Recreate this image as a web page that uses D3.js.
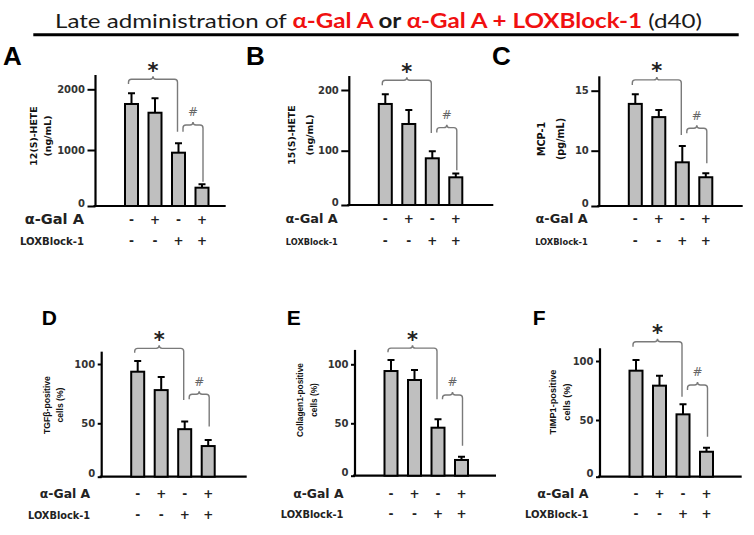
<!DOCTYPE html>
<html>
<head>
<meta charset="utf-8">
<script src="https://cdn.jsdelivr.net/npm/d3@7"></script>
<style>
  body { margin: 0; background: #fff; }
  svg { display: block; }
</style>
</head>
<body>
<script>
// groups and the two treatment rows under each panel
var groups = ["g1", "g2", "g3", "g4"];
var galSigns = ["-", "+", "-", "+"];
var loxSigns = ["-", "-", "+", "+"];

// bar means and upper error
var hete12 = [1758, 1614, 952, 327];
var hete12Err = [176, 238, 158, 61];
var hete15 = [177, 144, 86, 51];
var hete15Err = [16, 23, 13, 7];
var mcp1 = [13.9, 12.8, 7.9, 5.2];
var mcp1Err = [0.8, 0.6, 2.5, 0.7];
var tgfb = [93.5, 78, 44.5, 28.7];
var tgfbErr = [9, 11, 7, 5.7];
var col1 = [94.3, 86.7, 45.8, 15];
var col1Err = [9.4, 8.5, 7.6, 3.1];
var timp1 = [91.8, 79.1, 54.8, 22];
var timp1Err = [9, 8.5, 8.5, 3.6];

// y tick labels
var ticks12 = [0, 1000, 2000];
var ticks15 = [0, 100, 200];
var ticksMcp = [0, 10, 15];
var ticksPct = [0, 50, 100];

// significance brackets: [top level, left end level, right end level]
var starA = [2165, 2088, 1301], hashA = [1412, 1301, 434];
var starB = [216, 208, 129],    hashB = [138, 130, 64];
var starC = [15.9, 15.47, 11.3], hashC = [11.87, 11.45, 7.72];
var starD = [113.2, 109.5, 69.6], hashD = [74.5, 70.3, 47];
var starE = [113.7, 110.3, 70.3], hashE = [74, 70.3, 28.6];
var starF = [116.3, 112, 69.7], hashF = [79.7, 75.4, 35.3];

// panel layout
var panels = [
  {letter: "A", lx: 3, ly: 65, lsize: 26, values: hete12, errs: hete12Err, ticks: ticks12,
   tickPx: [206, 150, 89.3], yMax: 2236, axisX: 95.5, xEnd: 225.7, star: starA, hash: hashA,
   titles: ["12(S)-HETE", "(ng/mL)"], titleX: [-62, -48], titleY: 136, titleSize: 9.4, titleFont: "dv",
   tickSize: 8, row1: 223.5, row2: 245.3, galSize: 14.6, loxSize: 10.1},
  {letter: "B", lx: 246, ly: 65, lsize: 26, values: hete15, errs: hete15Err, ticks: ticks15,
   tickPx: [205, 150.7, 90], yMax: 223, axisX: 349.3, xEnd: 493.3, star: starB, hash: hashB,
   titles: ["15(S)-HETE", "(ng/mL)"], titleX: [-57.5, -39.7], titleY: 135, titleSize: 9.4, titleFont: "dv",
   tickSize: 8, row1: 223.3, row2: 245, galSize: 12.9, loxSize: 8.2},
  {letter: "C", lx: 492, ly: 65, lsize: 26, values: mcp1, errs: mcp1Err, ticks: ticksMcp,
   tickPx: [206, 150.7, 90.7], yMax: 16.2, axisX: 599.3, xEnd: 742.7, star: starC, hash: hashC,
   titles: ["MCP-1", "(pg/mL)"], titleX: [-57.6, -39.3], titleY: 139, titleSize: 9.6, titleFont: "dv",
   tickSize: 8, row1: 223.3, row2: 245, galSize: 12.9, loxSize: 8.3},
  {letter: "D", lx: 41.7, ly: 325, lsize: 21, values: tgfb, errs: tgfbErr, ticks: ticksPct,
   tickPx: [476.7, 423.3, 364], yMax: 110.4, axisX: 101.7, xEnd: 246.7, star: starD, hash: hashD,
   titles: ["TGF\u03B2-positive", "cells (%)"], titleX: [-54.7, -41.7], titleY: 405, titleSize: 8.6, titleFont: "ar",
   tickSize: 4, row1: 498, row2: 518.5, galSize: 12.4, loxSize: 9.8},
  {letter: "E", lx: 286.7, ly: 325, lsize: 21, values: col1, errs: col1Err, ticks: ticksPct,
   tickPx: [475.7, 423.3, 364.3], yMax: 112.2, axisX: 355, xEnd: 496, star: starE, hash: hashE,
   titles: ["Collagen1-positive", "cells (%)"], titleX: [-55, -41.2], titleY: 400, titleSize: 8.3, titleFont: "ar",
   tickSize: 4, row1: 498.3, row2: 518.3, galSize: 12.4, loxSize: 9.9},
  {letter: "F", lx: 532.7, ly: 325, lsize: 21, values: timp1, errs: timp1Err, ticks: ticksPct,
   tickPx: [476.7, 420, 361], yMax: 110.8, axisX: 600, xEnd: 741.7, star: starF, hash: hashF,
   titles: ["TIMP1-positive", "cells (%)"], titleX: [-46.7, -33.3], titleY: 402, titleSize: 9.2, titleFont: "ar",
   tickSize: 4, row1: 498.3, row2: 518.3, galSize: 12.6, loxSize: 10}
];

var boldFont = "'DejaVu Sans', Verdana, sans-serif";
var arialFont = "'Liberation Sans', Arial, sans-serif";

var svg = d3.select("body").append("svg")
    .attr("width", 754)
    .attr("height", 535);

// heading
var heading = svg.append("text")
    .attr("x", 55)
    .attr("y", 28.3)
    .attr("textLength", 647)
    .attr("lengthAdjust", "spacingAndGlyphs")
    .style("font-family", "Lato, 'Open Sans', sans-serif")
    .style("font-size", "20px")
    .style("fill", "#1a1a1a");
heading.append("tspan").text("Late administration of ");
heading.append("tspan").style("fill", "#f01010").style("font-weight", "bold").text("\u03B1-Gal A");
heading.append("tspan").style("font-weight", "bold").text("  or ");
heading.append("tspan").style("fill", "#f01010").style("font-weight", "bold").text("\u03B1-Gal A  + LOXBlock-1");
heading.append("tspan").text(" (d40)");

svg.append("line")
    .attr("x1", 33.3).attr("x2", 738.7)
    .attr("y1", 34.7).attr("y2", 34.7)
    .style("stroke", "#000")
    .style("stroke-width", 3);

// curly bracket opening downward
function bracket(xL, xR, yTop, yL, yR) {
  var r = 3, xm = (xL + xR) / 2;
  return "M" + xL + "," + yL +
    "L" + xL + "," + (yTop + r) +
    "Q" + xL + "," + yTop + " " + (xL + r) + "," + yTop +
    "L" + (xm - r) + "," + yTop +
    "Q" + xm + "," + yTop + " " + xm + "," + (yTop - r) +
    "Q" + xm + "," + yTop + " " + (xm + r) + "," + yTop +
    "L" + (xR - r) + "," + yTop +
    "Q" + xR + "," + yTop + " " + xR + "," + (yTop + r) +
    "L" + xR + "," + yR;
}

panels.forEach(function(p) {
  var g = svg.append("g");

  var x = d3.scalePoint()
      .domain(groups)
      .range([p.axisX + 36, p.axisX + 106.5]);

  // the printed axis is not evenly spaced, so use a piecewise linear scale
  var y = d3.scaleLinear()
      .domain(p.ticks)
      .range(p.tickPx);

  var base = y(0);
  var barW = 13;

  // panel letter
  g.append("text")
      .attr("x", p.lx)
      .attr("y", p.ly)
      .style("font-family", arialFont)
      .style("font-weight", "bold")
      .style("font-size", p.lsize + "px")
      .text(p.letter);

  // y axis ticks
  var yAxis = g.append("g")
      .attr("transform", "translate(" + p.axisX + ",0)")
      .call(d3.axisLeft(y).tickValues(p.ticks).tickFormat(d3.format("d"))
        .tickSize(p.tickSize).tickPadding(2.5).tickSizeOuter(0));
  yAxis.select(".domain").remove();
  yAxis.selectAll("line").style("stroke", "#000").style("stroke-width", 2);
  yAxis.selectAll("text")
      .style("font-family", boldFont)
      .style("font-weight", "bold")
      .style("font-size", "10px")
      .style("fill", "#333");
  // the zero label sits a little above the baseline in the original
  yAxis.selectAll("text")
      .filter(function(d) { return d === 0; })
      .attr("dy", "0.02em");

  // axis lines
  g.append("line")
      .attr("x1", p.axisX).attr("x2", p.axisX)
      .attr("y1", base).attr("y2", y(p.yMax))
      .style("stroke", "#000").style("stroke-width", 2.2);
  g.append("line")
      .attr("x1", p.axisX - 2).attr("x2", p.xEnd)
      .attr("y1", base).attr("y2", base)
      .style("stroke", "#000").style("stroke-width", 2.2);

  // y titles
  p.titles.forEach(function(t, i) {
    g.append("text")
        .attr("transform", "translate(" + (p.axisX + p.titleX[i]) + "," + p.titleY + ") rotate(-90)")
        .attr("text-anchor", "middle")
        .attr("dominant-baseline", "central")
        .style("font-family", p.titleFont == "dv" ? boldFont : arialFont)
        .style("font-weight", "bold")
        .style("font-size", p.titleSize + "px")
        .style("fill", "#111")
        .text(t);
  });

  var data = groups.map(function(k, i) {
    return {key: k, v: p.values[i], e: p.errs[i], gal: galSigns[i], lox: loxSigns[i]};
  });

  // error bars (upper only)
  g.selectAll(".err")
      .data(data)
    .enter().append("path")
      .attr("class", "err")
      .attr("d", function(d) {
        var cx = x(d.key), top = y(d.v + d.e);
        return "M" + cx + "," + y(d.v) + "V" + top + "M" + (cx - 3.5) + "," + top + "H" + (cx + 3.5);
      })
      .style("fill", "none")
      .style("stroke", "#000")
      .style("stroke-width", 2);

  // bars
  g.selectAll(".bar")
      .data(data)
    .enter().append("rect")
      .attr("class", "bar")
      .attr("x", function(d) { return x(d.key) - barW / 2; })
      .attr("width", barW)
      .attr("y", function(d) { return y(d.v); })
      .attr("height", function(d) { return base - y(d.v); })
      .style("fill", "#bfbfbf")
      .style("stroke", "#000")
      .style("stroke-width", 2);

  // brackets
  var sx1 = x(groups[0]) - 3, sx2 = x(groups[2]) - 1;
  g.append("path")
      .attr("d", bracket(sx1, sx2, y(p.star[0]), y(p.star[1]), y(p.star[2])))
      .style("fill", "none").style("stroke", "#7a7a7a").style("stroke-width", 1.4);
  g.append("text")
      .attr("x", (sx1 + sx2) / 2)
      .attr("y", y(p.star[0]) - 14 + 12.5)
      .attr("text-anchor", "middle")
      .style("font-family", boldFont)
      .style("font-weight", "bold")
      .style("font-size", "21px")
      .style("fill", "#222")
      .text("*");

  var hx1 = x(groups[2]) + 4.5, hx2 = x(groups[3]) + 1;
  g.append("path")
      .attr("d", bracket(hx1, hx2, y(p.hash[0]), y(p.hash[1]), y(p.hash[2])))
      .style("fill", "none").style("stroke", "#7a7a7a").style("stroke-width", 1.4);
  g.append("text")
      .attr("x", (hx1 + hx2) / 2)
      .attr("y", y(p.hash[0]) - 13 + 4.4)
      .attr("text-anchor", "middle")
      .style("font-family", boldFont)
      .style("font-size", "12px")
      .style("fill", "#666")
      .text("#");

  // treatment rows
  g.append("text")
      .attr("x", p.axisX - 11.5)
      .attr("y", p.row1)
      .attr("text-anchor", "end")
      .style("font-family", boldFont)
      .style("font-weight", "bold")
      .style("font-size", p.galSize + "px")
      .style("fill", "#222")
      .text("\u03B1-Gal A");
  g.append("text")
      .attr("x", p.axisX - 11.5)
      .attr("y", p.row2)
      .attr("text-anchor", "end")
      .style("font-family", boldFont)
      .style("font-weight", "bold")
      .style("font-size", p.loxSize + "px")
      .style("fill", "#222")
      .text("LOXBlock-1");

  g.selectAll(".gal")
      .data(data)
    .enter().append("text")
      .attr("class", "gal")
      .attr("x", function(d) { return x(d.key); })
      .attr("y", p.row1)
      .attr("text-anchor", "middle")
      .style("font-family", boldFont)
      .style("font-weight", "bold")
      .style("font-size", "12px")
      .style("fill", "#222")
      .text(function(d) { return d.gal; });
  g.selectAll(".lox")
      .data(data)
    .enter().append("text")
      .attr("class", "lox")
      .attr("x", function(d) { return x(d.key); })
      .attr("y", p.row2)
      .attr("text-anchor", "middle")
      .style("font-family", boldFont)
      .style("font-weight", "bold")
      .style("font-size", "12px")
      .style("fill", "#222")
      .text(function(d) { return d.lox; });
});
</script>
</body>
</html>
